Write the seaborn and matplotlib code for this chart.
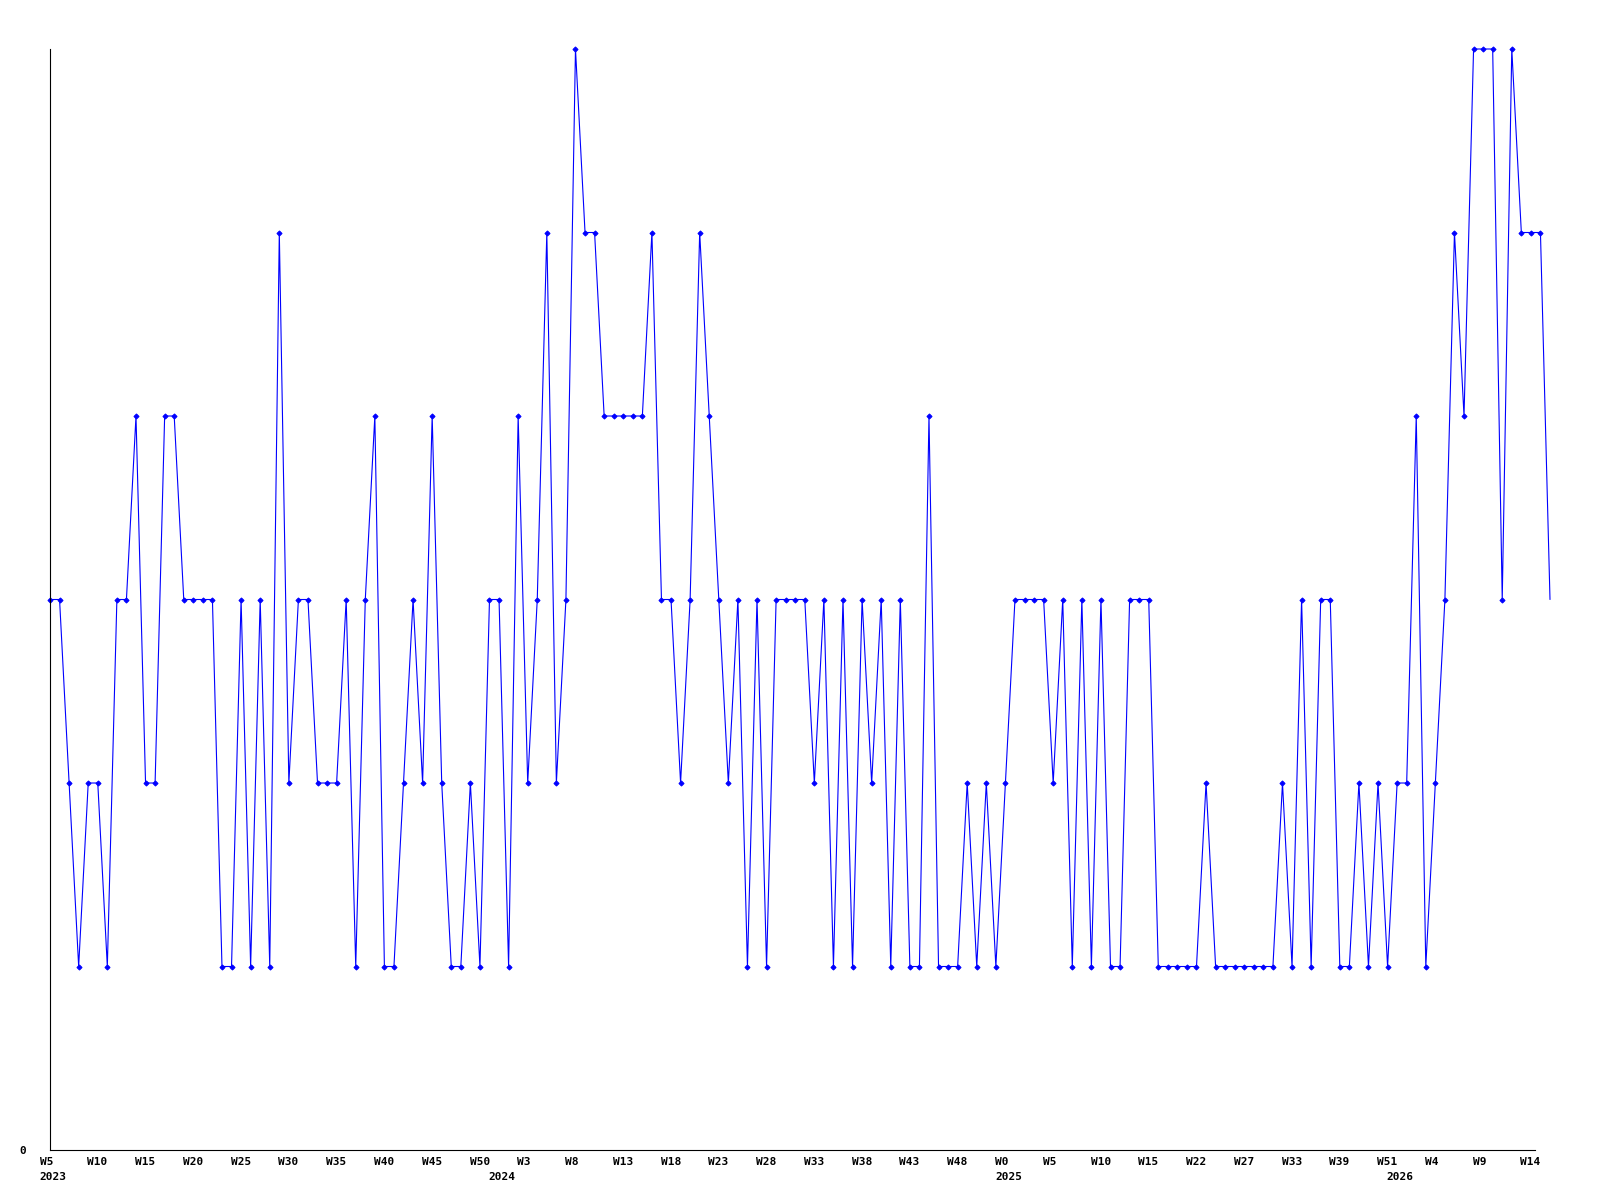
"""Weekly count chart: blue line with small diamond markers, sparse week labels."""

from __future__ import annotations

import matplotlib

matplotlib.use("Agg")
import matplotlib.pyplot as plt
import numpy as np
import seaborn as sns

# weekly values, oldest first (last week still open, drawn without marker)
counts = [
    3, 3, 2, 1, 2, 2, 1, 3, 3, 4,
    2, 2, 4, 4, 3, 3, 3, 3, 1, 1,
    3, 1, 3, 1, 5, 2, 3, 3, 2, 2,
    2, 3, 1, 3, 4, 1, 1, 2, 3, 2,
    4, 2, 1, 1, 2, 1, 3, 3, 1, 4,
    2, 3, 5, 2, 3, 6, 5, 5, 4, 4,
    4, 4, 4, 5, 3, 3, 2, 3, 5, 4,
    3, 2, 3, 1, 3, 1, 3, 3, 3, 3,
    2, 3, 1, 3, 1, 3, 2, 3, 1, 3,
    1, 1, 4, 1, 1, 1, 2, 1, 2, 1,
    2, 3, 3, 3, 3, 2, 3, 1, 3, 1,
    3, 1, 1, 3, 3, 3, 1, 1, 1, 1,
    1, 2, 1, 1, 1, 1, 1, 1, 1, 2,
    1, 3, 1, 3, 3, 1, 1, 2, 1, 2,
    1, 2, 2, 4, 1, 2, 3, 5, 4, 6,
    6, 6, 3, 6, 5, 5, 5, 3,
]

# a label every fifth point
week_labels = [
    "W5", "W10", "W15", "W20", "W25", "W30", "W35", "W40", "W45", "W50",
    "W3", "W8", "W13", "W18", "W23", "W28", "W33", "W38", "W43", "W48",
    "W0", "W5", "W10", "W15", "W22", "W27", "W33", "W39", "W51",
    "W4", "W9", "W14",
]
year_labels = ["2023", "2024", "2025", "2026"]
year_points = [0, 47, 100, 141]

BLUE = "#0000ff"
FONT = dict(family="DejaVu Sans Mono", weight="bold", fontsize=8, color="black")


def plot_weekly(out_path: str = "out.png") -> None:
    sns.set_style("white")
    plt.rcParams["font.family"] = ["DejaVu Sans Mono", "DejaVu Sans"]

    x = np.arange(len(counts))
    fig = plt.figure(figsize=(16, 12), dpi=100)
    ax = fig.add_axes([50 / 1600, 1 - 1150 / 1200, 1500 / 1600, 1101 / 1200])

    sns.lineplot(
        x=x,
        y=counts,
        ax=ax,
        color=BLUE,
        linewidth=0.8,
        marker="D",
        markersize=2.6,
        markeredgewidth=0.7,
        markeredgecolor=BLUE,
        markevery=list(range(len(counts) - 1)),
        clip_on=False,
    )

    ax.set_xlim(0, len(counts) - 1)
    ax.set_ylim(0, 6)
    ax.set_xticks([])
    ax.set_yticks([])
    ax.set_xlabel("")
    ax.set_ylabel("")
    for side in ("top", "right"):
        ax.spines[side].set_visible(False)
    for side in ("left", "bottom"):
        ax.spines[side].set_color("black")
        ax.spines[side].set_linewidth(0.8)
    ax.spines["bottom"].set_bounds(0, 155.4)

    # week labels sit just left of their point, years one row below
    tick_pos = x[::5]
    for pos, lab in zip(tick_pos, week_labels):
        ax.annotate(lab, xy=(pos, 0), xycoords=("data", "axes fraction"),
                    xytext=(-7.5, -8.5), textcoords="offset points",
                    ha="left", va="center", annotation_clip=False, **FONT)
    for pos, lab in zip(year_points, year_labels):
        ax.annotate(lab, xy=(pos, 0), xycoords=("data", "axes fraction"),
                    xytext=(-7.5, -19.5), textcoords="offset points",
                    ha="left", va="center", annotation_clip=False, **FONT)
    ax.annotate("0", xy=(0, 0), xycoords="axes fraction",
                xytext=(-19.5, -0.5), textcoords="offset points",
                ha="center", va="center", annotation_clip=False, **FONT)

    fig.savefig(out_path, dpi=100)
    plt.close(fig)


if __name__ == "__main__":
    plot_weekly()
